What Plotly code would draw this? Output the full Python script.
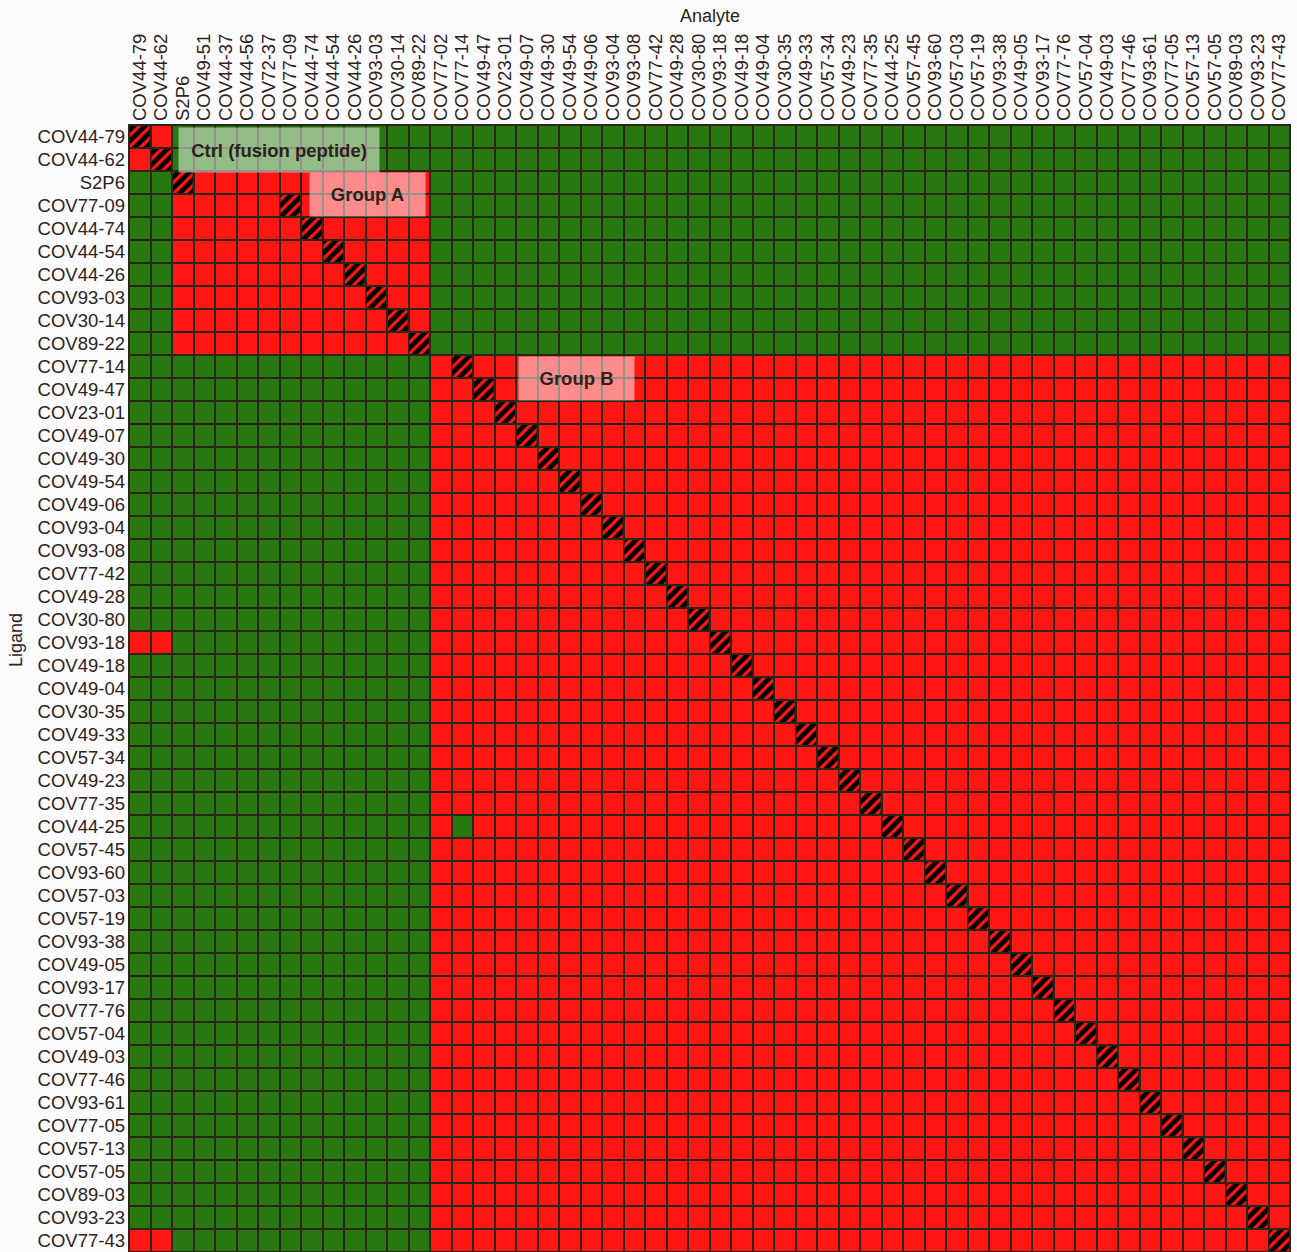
import plotly.graph_objects as go

# ---------------- data ----------------
analytes = ["COV44-79", "COV44-62", "S2P6", "COV49-51", "COV44-37", "COV44-56", "COV72-37",
            "COV77-09", "COV44-74", "COV44-54", "COV44-26", "COV93-03", "COV30-14", "COV89-22",
            "COV77-02", "COV77-14", "COV49-47", "COV23-01", "COV49-07", "COV49-30", "COV49-54",
            "COV49-06", "COV93-04", "COV93-08", "COV77-42", "COV49-28", "COV30-80", "COV93-18",
            "COV49-18", "COV49-04", "COV30-35", "COV49-33", "COV57-34", "COV49-23", "COV77-35",
            "COV44-25", "COV57-45", "COV93-60", "COV57-03", "COV57-19", "COV93-38", "COV49-05",
            "COV93-17", "COV77-76", "COV57-04", "COV49-03", "COV77-46", "COV93-61", "COV77-05",
            "COV57-13", "COV57-05", "COV89-03", "COV93-23", "COV77-43"]

ligands = ["COV44-79", "COV44-62", "S2P6", "COV77-09", "COV44-74", "COV44-54", "COV44-26",
           "COV93-03", "COV30-14", "COV89-22", "COV77-14", "COV49-47", "COV23-01", "COV49-07",
           "COV49-30", "COV49-54", "COV49-06", "COV93-04", "COV93-08", "COV77-42", "COV49-28",
           "COV30-80", "COV93-18", "COV49-18", "COV49-04", "COV30-35", "COV49-33", "COV57-34",
           "COV49-23", "COV77-35", "COV44-25", "COV57-45", "COV93-60", "COV57-03", "COV57-19",
           "COV93-38", "COV49-05", "COV93-17", "COV77-76", "COV57-04", "COV49-03", "COV77-46",
           "COV93-61", "COV77-05", "COV57-13", "COV57-05", "COV89-03", "COV93-23", "COV77-43"]

# competition groups (everything not listed below belongs to Group B)
ctrl_members = ["COV44-79", "COV44-62"]
group_a_members = ["S2P6", "COV49-51", "COV44-37", "COV44-56", "COV72-37", "COV77-09",
                   "COV44-74", "COV44-54", "COV44-26", "COV93-03", "COV30-14", "COV89-22"]

# (ligand, analyte) cells that deviate from the group pattern
extra_competing = [("COV93-18", "COV44-79"), ("COV93-18", "COV44-62"),
                   ("COV77-43", "COV44-79"), ("COV77-43", "COV44-62")]
extra_noncompeting = [("COV44-25", "COV77-14")]

group_labels = ["Ctrl (fusion peptide)", "Group A", "Group B"]

# ---------------- styling ----------------
GREEN = "#26780f"
RED = "#ff1714"
GRID = "#2a2419"
TEXT = "#2e221b"
FONT = "Liberation Sans, Arial, sans-serif"


def group_of(name):
    if name in ctrl_members:
        return "ctrl"
    if name in group_a_members:
        return "A"
    return "B"


z = []
hatch_x, hatch_y = [], []
for i, lig in enumerate(ligands):
    row = []
    for j, ana in enumerate(analytes):
        if lig == ana:
            row.append(None)
            hatch_x.append(j)
            hatch_y.append(i)
            continue
        v = 1 if group_of(lig) == group_of(ana) else 0
        if (lig, ana) in extra_competing:
            v = 1
        if (lig, ana) in extra_noncompeting:
            v = 0
        row.append(v)
    z.append(row)

fig = go.Figure()
fig.add_trace(go.Heatmap(
    z=z, x=list(range(len(analytes))), y=list(range(len(ligands))),
    colorscale=[[0, GREEN], [0.5, GREEN], [0.5, RED], [1, RED]],
    zmin=0, zmax=1, showscale=False, xgap=2, ygap=2, hoverongaps=False,
))

fig.add_trace(go.Bar(
    x=hatch_x, y=[0.91] * len(hatch_y), base=[v - 0.455 for v in hatch_y],
    width=0.907, showlegend=False,
    marker=dict(color="black", line=dict(width=0),
                pattern=dict(shape="/", fgcolor=RED, bgcolor="black", fgopacity=1,
                             size=8, solidity=0.4)),
))

fig.update_layout(
    width=1297, height=1252,
    margin=dict(l=129, r=7, t=125, b=0),
    paper_bgcolor="#fbfbfd", plot_bgcolor=GRID,
    font=dict(family=FONT, color=TEXT, size=18),
    barmode="overlay", showlegend=False,
    xaxis=dict(side="top", tickmode="array", tickvals=list(range(len(analytes))),
               ticktext=analytes, tickangle=-90, range=[-0.5, len(analytes) - 0.5],
               showgrid=False, zeroline=False, ticks="", ticklabelstandoff=3,
               tickfont=dict(size=18.5, family=FONT, color=TEXT)),
    yaxis=dict(tickmode="array", tickvals=list(range(len(ligands))), ticktext=ligands,
               range=[len(ligands) - 0.5, -0.5], showgrid=False, zeroline=False,
               ticks="", ticklabelstandoff=3,
               tickfont=dict(size=18.5, family=FONT, color=TEXT)),
)

fig.add_shape(type="rect", xref="paper", yref="paper", x0=0, x1=1, y0=0, y1=1,
              line=dict(color=GRID, width=2))

# axis titles
fig.add_annotation(text="Analyte", xref="paper", yref="paper", x=0.5, y=1.0967,
                   xanchor="center", yanchor="middle",
                   showarrow=False, font=dict(size=18, family=FONT, color=TEXT))
fig.add_annotation(text="Ligand", xref="paper", yref="paper", x=-0.0973, y=0.543,
                   xanchor="center", yanchor="middle",
                   textangle=-90, showarrow=False, font=dict(size=18, family=FONT, color=TEXT))

# group labels
label_pos = [(6.47, 0.57, 200, 44), (10.58, 2.5, 115, 43), (20.3, 10.54, 115, 43)]
for txt, (lx, ly, w, h) in zip(group_labels, label_pos):
    fig.add_annotation(text="<b>%s</b>" % txt, x=lx, y=ly, xref="x", yref="y",
                       showarrow=False, width=w, height=h, bgcolor="rgba(255,255,255,0.5)",
                       borderpad=0, font=dict(size=18.5, family=FONT, color=TEXT))

fig.write_html("out.html")
